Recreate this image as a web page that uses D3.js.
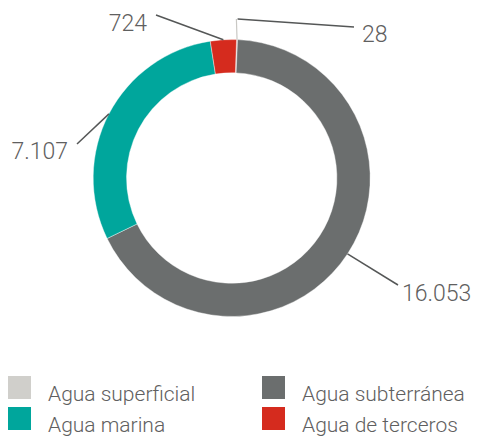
<!DOCTYPE html>
<html>
<head>
<meta charset="utf-8">
<script src="https://cdn.jsdelivr.net/npm/d3@7"></script>
<style>
  html, body { margin: 0; padding: 0; background: #ffffff; }
  svg { display: block; }
  text { font-family: Roboto, "Open Sans", sans-serif; font-weight: 300; fill: #5f6060; }
</style>
</head>
<body>
<svg id="chart" width="479" height="437"></svg>
<script>
// Water withdrawal by source
const categories = ["Agua superficial", "Agua subterránea", "Agua marina", "Agua de terceros"];
const values = [28, 16053, 7107, 724];
const valueLabels = ["28", "16.053", "7.107", "724"];
const colors = ["#d0cfcb", "#6b6e6e", "#00a69c", "#d52b1e"];

// Label placement for each slice: where the leader line ends and the text sits
const labelLayout = [
  { elbow: [237, 19], end: [354, 27], text: [362, 42], anchor: "start", vertical: true },
  { end: [398, 285], text: [402, 301], anchor: "start" },
  { end: [77, 144], text: [68, 159], anchor: "end" },
  { end: [156, 15], text: [147, 31], anchor: "end" }
];

const svg = d3.select("#chart");
const cx = 231.7, cy = 178;
const outerR = 138.5, innerR = 105.2;
const rotation = 2 * Math.PI / 180;

const pie = d3.pie()
  .sort(null)
  .value(d => d)
  .startAngle(rotation)
  .endAngle(2 * Math.PI + rotation);

const arcs = pie(values);
const arc = d3.arc().innerRadius(innerR).outerRadius(outerR);

const g = svg.append("g").attr("transform", `translate(${cx},${cy})`);

g.selectAll("path.slice")
  .data(arcs)
  .join("path")
  .attr("class", "slice")
  .attr("d", arc)
  .attr("fill", (d, i) => colors[i])
  .attr("stroke", "#ffffff")
  .attr("stroke-width", 0.4);

// Leader lines start on the outer edge at each slice's mid angle
const outerPoint = (a, r) => [r * Math.sin(a), -r * Math.cos(a)];

arcs.forEach((d, i) => {
  const lay = labelLayout[i];
  const mid = (d.startAngle + d.endAngle) / 2;
  const p0 = outerPoint(mid, outerR);
  const start = [p0[0] + cx, p0[1] + cy];
  if (lay.vertical) {
    svg.append("line")
      .attr("x1", start[0]).attr("y1", start[1])
      .attr("x2", lay.elbow[0] - 0.6).attr("y2", lay.elbow[1])
      .attr("stroke", "#c9c8c4").attr("stroke-width", 1.2);
    svg.append("line")
      .attr("x1", lay.elbow[0] + 0.6).attr("y1", lay.elbow[1])
      .attr("x2", lay.end[0]).attr("y2", lay.end[1])
      .attr("stroke", "#555757").attr("stroke-width", 1.5);
  } else {
    svg.append("line")
      .attr("x1", start[0]).attr("y1", start[1])
      .attr("x2", lay.end[0]).attr("y2", lay.end[1])
      .attr("stroke", "#555757").attr("stroke-width", 1.5);
  }
  svg.append("text")
    .attr("x", lay.text[0]).attr("y", lay.text[1])
    .attr("text-anchor", lay.anchor)
    .style("font-size", "23px")
    .text(valueLabels[i]);
});

// Legend, two columns
const legendPos = [[8, 376], [262, 376], [8, 407], [262, 407]];
const legend = svg.append("g");
categories.forEach((c, i) => {
  const [x, y] = legendPos[i];
  legend.append("rect")
    .attr("x", x).attr("y", y).attr("width", 23).attr("height", 23)
    .attr("fill", colors[i]);
  legend.append("text")
    .attr("x", x + 40).attr("y", y + 24.5)
    .style("font-size", "21px")
    .text(c);
});
</script>
</body>
</html>
